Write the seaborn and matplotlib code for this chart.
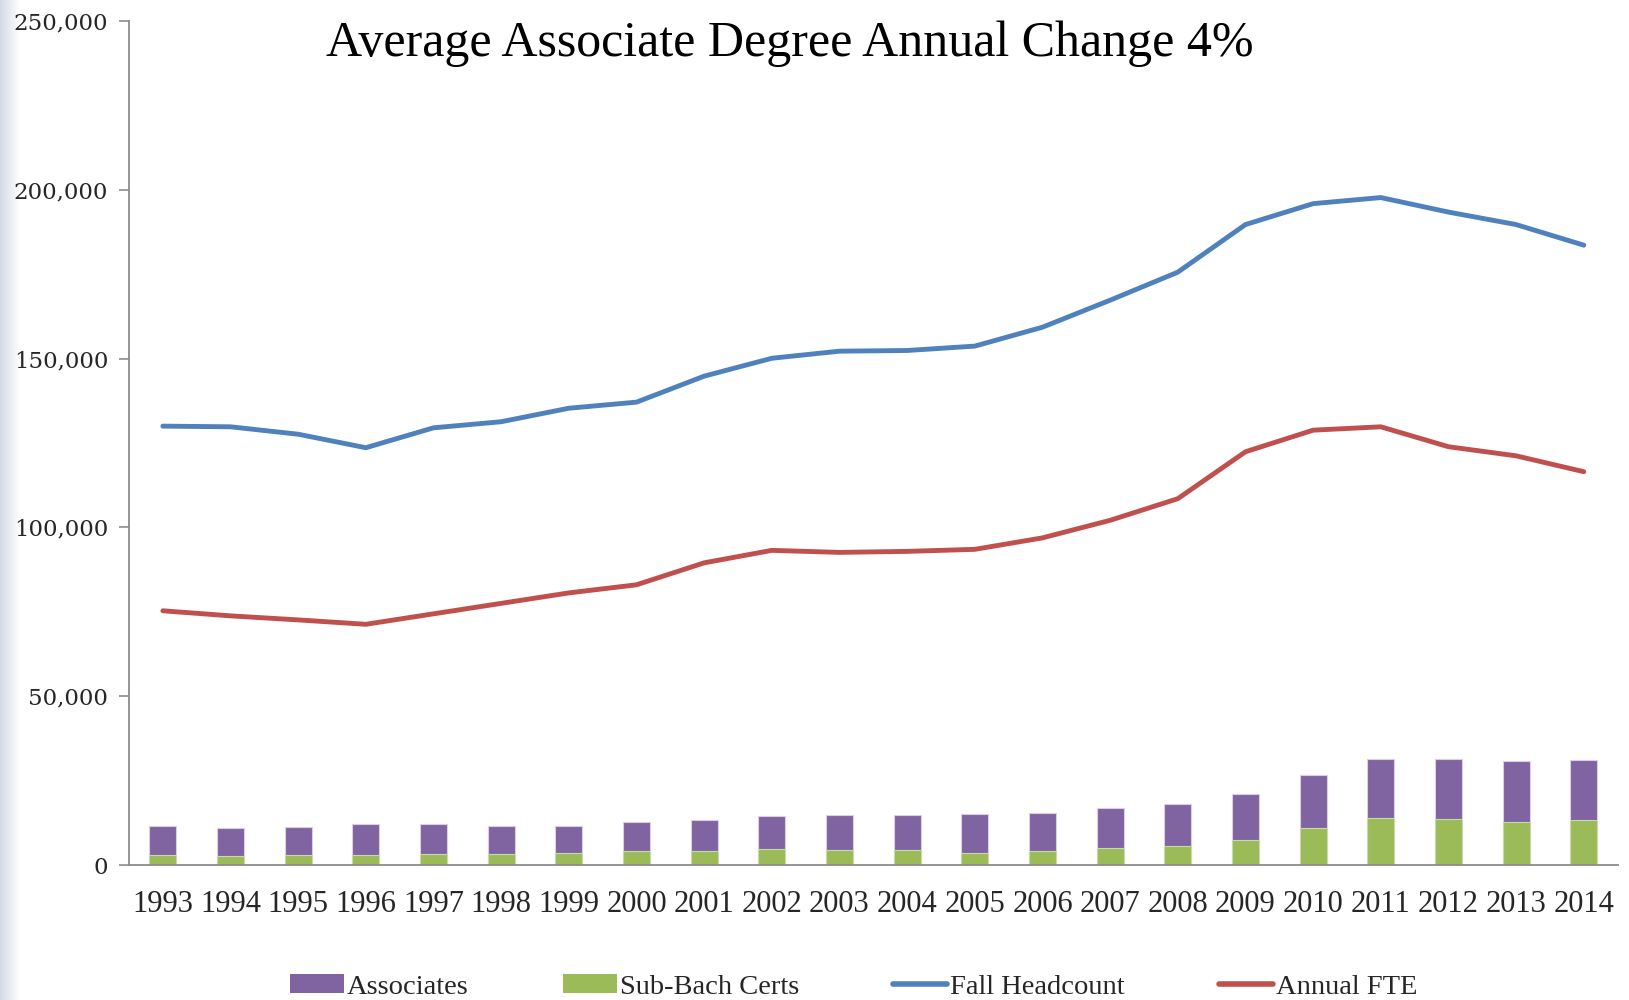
import numpy as np
import pandas as pd
import matplotlib
matplotlib.use("Agg")
import matplotlib.pyplot as plt
import seaborn as sns
from matplotlib.patches import Patch
from matplotlib.lines import Line2D

years = [str(y) for y in range(1993, 2015)]
sub_bach_certs = [3100, 2800, 3000, 3100, 3400, 3400, 3500, 4000, 4200, 4600, 4500,
                  4300, 3700, 4000, 4900, 5500, 7300, 11100, 13800, 13500, 12800, 13200]
associates = [8600, 8300, 8400, 8900, 8600, 8300, 8200, 8600, 9000, 9900, 10200,
              10400, 11300, 11400, 12000, 12600, 13600, 15600, 17600, 17900, 17900, 17800]
fall_headcount = [130000, 129800, 127600, 123600, 129500, 131300, 135300, 137100, 144800,
                  150100, 152200, 152400, 153700, 159300, 167300, 175600, 189700, 195900,
                  197700, 193400, 189700, 183600]
annual_fte = [75300, 73800, 72600, 71300, 74400, 77500, 80600, 83000, 89500, 93200, 92600,
              92900, 93500, 96900, 102100, 108500, 122400, 128800, 129800, 123900, 121200, 116500]
y_ticks = [0, 50000, 100000, 150000, 200000, 250000]
title = "Average Associate Degree Annual Change 4%"

PURPLE = "#8064A2"
GREEN = "#9BBB59"
BLUE = "#4F81BD"
RED = "#C0504D"
AXIS = "#8C8C8C"

sns.set_theme(style="white")
plt.rcParams['font.family'] = ['Liberation Serif', 'DejaVu Serif']

df = pd.DataFrame({
    "year": years,
    "certs": sub_bach_certs,
    "assoc": associates,
    "total": np.array(sub_bach_certs) + np.array(associates),
    "head": fall_headcount,
    "fte": annual_fte,
})
df["pos"] = np.arange(len(df))

fig = plt.figure(figsize=(16.29, 10), dpi=100)

# faint slide-edge shading on the far left
edge = fig.add_axes([0, 0, 0.012, 1])
grad = np.linspace(1, 0, 64).reshape(1, -1)
edge.imshow(grad, aspect="auto", cmap=matplotlib.colors.LinearSegmentedColormap.from_list(
    "edge", ["#FFFFFF", "#D3DAE6"]), extent=[0, 1, 0, 1])
edge.axis("off")

ax = fig.add_axes([0.0792, 0.135, 0.9138, 0.844])

sns.barplot(data=df, x="year", y="total", color=PURPLE, width=0.4, ax=ax,
            saturation=1, edgecolor="#D9D0E6", linewidth=0.8)
sns.barplot(data=df, x="year", y="certs", color=GREEN, width=0.4, ax=ax,
            saturation=1, edgecolor="#C9DAA8", linewidth=0.8)
sns.lineplot(data=df, x="pos", y="head", color=BLUE, linewidth=3.5, ax=ax)
sns.lineplot(data=df, x="pos", y="fte", color=RED, linewidth=3.5, ax=ax)

n = len(years)
ax.set_xlim(-0.5, n - 0.5)
ax.set_ylim(0, 250000)
ax.set_xticks(np.arange(n))
ax.set_xticklabels(years, fontsize=22)
ax.set_xticks(np.arange(n + 1) - 0.5, minor=True)
ax.tick_params(axis="x", which="major", length=0, pad=18)
ax.tick_params(axis="x", which="minor", length=10, width=1.2, color=AXIS, direction="out")
ax.set_yticks(y_ticks)
ax.set_yticklabels([f"{v:,}" for v in y_ticks], fontsize=16.5, family=['DejaVu Serif'])
ax.tick_params(axis="y", length=7, width=1.2, color=AXIS, direction="out", pad=8, left=True)
ax.set_xlabel("")
ax.set_ylabel("")
for s in ["top", "right"]:
    ax.spines[s].set_visible(False)
for s in ["left", "bottom"]:
    ax.spines[s].set_color(AXIS)
    ax.spines[s].set_linewidth(1.3)
ax.grid(False)

fig.text(0.485, 0.956, title, ha="center", va="center", fontsize=36, color="black")

handles = [Patch(facecolor=PURPLE, edgecolor="none"),
           Patch(facecolor=GREEN, edgecolor="none"),
           Line2D([0], [0], color=BLUE, linewidth=4),
           Line2D([0], [0], color=RED, linewidth=4)]
labels = ["Associates", "Sub-Bach Certs", "Fall Headcount", "Annual FTE"]
fig.legend(handles, labels, loc="center", bbox_to_anchor=(0.524, 0.013), ncol=4,
           frameon=False, fontsize=20.5, handlelength=1.9, handleheight=0.6,
           handletextpad=0.1, columnspacing=3.3)

fig.savefig("out.png", dpi=100)
